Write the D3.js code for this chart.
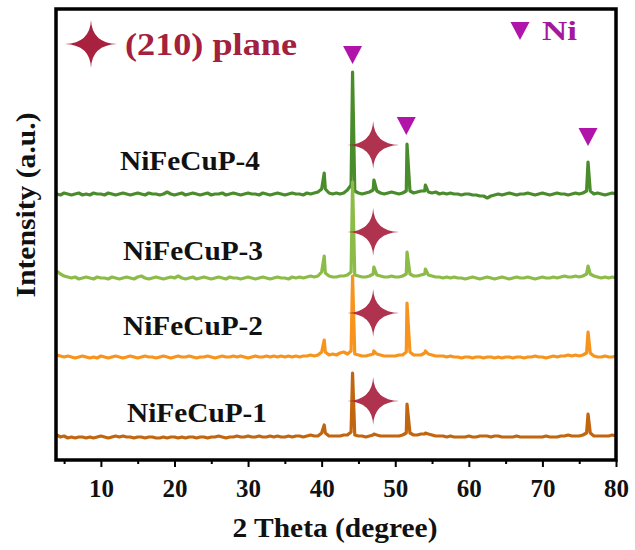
<!DOCTYPE html>
<html>
<head>
<meta charset="utf-8">
<script src="https://cdn.jsdelivr.net/npm/d3@7"></script>
<style>
body{margin:0;background:#fff}
svg{display:block}
</style>
</head>
<body>
<svg id="canvas"></svg>
<script>
// 2 theta grid of the scans (0.5 deg) plus the reflection positions
let twoTheta=d3.range(4,80.001,0.5);
let peakTheta=[40.35,44.2,47.1,51.6,54.1,76.2];

let sampleNames=["NiFeCuP-1","NiFeCuP-2","NiFeCuP-3","NiFeCuP-4"];
let sampleColors=["#c2650f","#f7941d","#8cbb48","#4a8b2c"];
let offsets=[22,102,181,265];

// background of each scan (a.u.)
let noise1=[3,1,2,0,1,0,1,1,0,1,0,1,2,1,0,1,2,1,2,1,
  1,0,1,1,0,1,1,0,0,1,0,1,1,0,1,0,1,1,0,1,
  1,0,1,1,2,1,0,1,1,2,1,1,2,1,1,2,1,1,2,1,
  2,1,1,2,1,2,2,1,2,3,2,2,5,5,2,2,2,2,3,3,
  6,3,2,2,1,2,3,3,2,2,2,2,2,2,3,5,5,3,3,4,
  4,4,3,2,2,2,1,2,1,1,1,1,2,1,1,2,2,2,1,2,
  2,1,1,1,1,2,1,1,1,1,1,1,1,2,1,1,1,2,2,3,
  2,2,2,3,5,5,2,2,2,2,2,3,2];
let noise2=[3,2,1,2,1,0,1,2,1,0,1,0,2,1,0,1,2,1,0,1,
  2,1,0,1,2,1,1,0,1,2,1,0,1,2,1,1,2,1,0,1,
  1,2,1,0,1,2,1,1,2,1,2,1,0,1,2,1,1,2,1,2,
  1,2,1,2,1,2,1,2,2,3,2,3,6,6,3,4,3,5,6,4,
  7,4,3,2,2,3,4,4,3,2,2,2,2,3,3,6,6,3,3,3,
  5,4,3,2,2,2,1,2,1,1,0,1,1,0,1,1,0,1,1,0,
  1,0,1,1,0,1,1,0,1,1,2,1,1,0,1,2,1,2,2,3,
  2,3,2,3,5,5,2,1,1,2,1,1,2];
let noise3=[8,5,3,2,1,2,0,1,2,1,0,2,1,1,0,2,1,0,1,2,
  1,0,2,3,1,0,1,2,1,0,1,2,1,3,1,0,1,2,0,1,
  2,1,0,1,2,1,0,2,1,1,0,1,2,1,0,1,2,1,0,1,
  2,1,1,0,2,1,2,1,2,3,2,3,7,6,3,2,2,3,3,4,
  7,4,3,2,2,3,5,4,3,2,2,3,2,2,3,5,5,3,3,4,
  5,4,3,2,2,1,2,1,2,1,1,0,1,2,1,0,1,2,1,0,
  1,2,1,0,1,2,1,1,2,1,0,1,2,1,1,2,1,2,3,2,
  2,3,2,3,5,5,3,2,1,2,1,2,1];
let noise4=[1,0,2,1,0,1,2,0,1,0,2,1,1,0,2,1,0,1,2,1,
  0,1,2,1,0,2,1,1,0,1,3,1,0,1,2,0,1,2,1,0,
  1,2,0,1,1,2,0,1,2,1,0,1,2,1,1,0,2,1,0,1,
  2,1,0,1,2,1,1,0,2,1,2,3,6,6,2,1,2,1,2,5,
  10,4,2,1,2,3,5,4,2,1,2,3,2,1,2,4,4,2,3,4,
  4,3,2,3,1,2,1,2,1,1,0,1,1,0,0,-1,-1,-3,-1,0,
  1,0,1,2,1,0,1,1,2,1,0,1,2,1,0,1,2,1,1,0,
  1,2,1,2,4,4,1,2,1,0,1,2,1];

// peak heights above background at peakTheta
let peaks1=[13,65,4,34,5,24];
let peaks2=[18,82,7,55,7,26];
let peaks3=[23,97,12,27,10,13];
let peaks4=[22,123,15,51,10,33];

// markers
let starTheta=47.0;
let starLevels=[59,147,228,315];
let niTheta=[44.2,51.5,76.2];
let niLevels=[405,334,323];

let xTicks=[10,20,30,40,50,60,70,80];
let xMinor=[5,15,25,35,45,55,65,75];

let width=635,height=550;
let padLeft=56,padRight=616,padTop=9,padBottom=460;
let serif="'Liberation Serif', 'Times New Roman', Times, serif";

let canvas=d3.select("#canvas").attr("width",width).attr("height",height);

let xscale=d3.scaleLinear().domain([3.9,80]).range([padLeft,padRight]);
let yscale=d3.scaleLinear().domain([0,451]).range([padBottom,padTop]);

let noises=[noise1,noise2,noise3,noise4];
let peaks=[peaks1,peaks2,peaks3,peaks4];

let series=sampleNames.map((name,k)=>{
    let pts=twoTheta.map((t,i)=>[t,offsets[k]+noises[k][i]]);
    peakTheta.forEach((t,j)=>pts.push([t,offsets[k]+peaks[k][j]]));
    pts.sort((a,b)=>a[0]-b[0]);
    return {name:name,color:sampleColors[k],pts:pts};
});

let line=d3.line().x(d=>xscale(d[0])).y(d=>yscale(d[1]));

// top sample first so lower scans sit on top
canvas.append("g").selectAll("path")
    .data(series.slice().reverse())
    .enter()
    .append("path")
    .attr("d",d=>line(d.pts))
    .attr("fill","none")
    .attr("stroke",d=>d.color)
    .attr("stroke-width",3.2)
    .attr("stroke-linejoin","round");

let starPath="M26,0Q1,1 0,24Q-1,1 -26,0Q-1,-1 0,-24Q1,-1 26,0Z";
let triPath="M-9.5,-9L9.5,-9L0,9Z";
let starColor="#a8213f";
let niColor="#b014a8";

canvas.append("g").selectAll("path")
    .data(starLevels)
    .enter()
    .append("path")
    .attr("d",starPath)
    .attr("transform",d=>"translate("+xscale(starTheta)+","+yscale(d)+")")
    .attr("fill",starColor)
    .attr("opacity",0.92);

canvas.append("g").selectAll("path")
    .data(niTheta)
    .enter()
    .append("path")
    .attr("d",triPath)
    .attr("transform",(d,i)=>"translate("+xscale(d)+","+yscale(niLevels[i])+")")
    .attr("fill",niColor);

function addText(x,y,size,len,color,txt){
    return canvas.append("text")
        .attr("x",x).attr("y",y)
        .attr("font-family",serif).attr("font-weight","bold")
        .attr("font-size",size)
        .attr("textLength",len).attr("lengthAdjust","spacingAndGlyphs")
        .attr("fill",color).text(txt);
}

// sample labels
let labelPos=[[127,422],[123,335],[123,260],[120,170]];
sampleNames.forEach((name,i)=>addText(labelPos[i][0],labelPos[i][1],27,140,"#111",name));

// legend
canvas.append("path").attr("d",starPath).attr("transform","translate(91,44)").attr("fill",starColor);
addText(125,55,31,172,"#a3203e","(210) plane");
canvas.append("path").attr("d",triPath).attr("transform","translate(520,31)").attr("fill",niColor);
addText(542,40,28,35,"#a4179f","Ni");

// axes
let xAxis=d3.axisBottom(xscale).tickValues(xTicks).tickSize(7).tickFormat(d3.format("d"));
let gx=canvas.append("g").attr("transform","translate(0,"+padBottom+")").call(xAxis);
gx.attr("font-family",serif).attr("font-size",25).attr("font-weight","bold");
gx.select(".domain").remove();
gx.selectAll("line").attr("stroke","#000").attr("stroke-width",2);
gx.selectAll("text").attr("fill","#111").attr("y",37).attr("dy",null);

let xAxisMinor=d3.axisBottom(xscale).tickValues(xMinor).tickSize(4).tickFormat("");
let gm=canvas.append("g").attr("transform","translate(0,"+padBottom+")").call(xAxisMinor);
gm.select(".domain").remove();
gm.selectAll("line").attr("stroke","#000").attr("stroke-width",2);

// frame
canvas.append("rect")
    .attr("x",padLeft).attr("y",padTop)
    .attr("width",padRight-padLeft).attr("height",padBottom-padTop)
    .attr("fill","none").attr("stroke","#000").attr("stroke-width",3.5);

addText(335,537,28,205,"#111","2 Theta (degree)").attr("text-anchor","middle");

addText(0,0,28,185,"#111","Intensity (a.u.)")
    .attr("text-anchor","middle")
    .attr("transform","translate(35,205) rotate(-90)");
</script>
</body>
</html>
